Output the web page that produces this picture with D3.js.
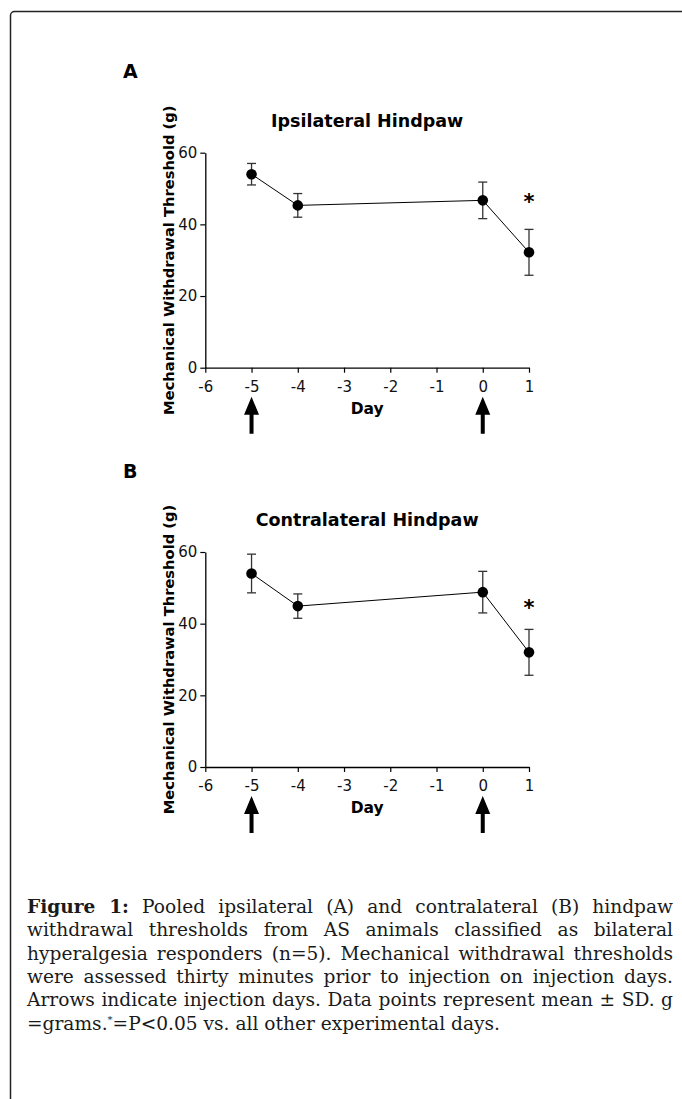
<!DOCTYPE html>
<html>
<head>
<meta charset="utf-8">
<script src="https://cdn.jsdelivr.net/npm/d3@7"></script>
<style>
    body { margin: 0; background: #fff; }
    #page { position: relative; width: 682px; height: 1099px; overflow: hidden; }
    svg { position: absolute; left: 0; top: 0; }
    .caption { position: absolute; left: 27px; width: 646px; top: 894.8px;
        font-family: "DejaVu Serif", serif; font-size: 18.6px; line-height: 23.4px; color: #1a1a1a; }
    .caption div { white-space: nowrap; text-align: justify; text-align-last: justify; }
    .caption div.last { text-align-last: left; }
    .caption b { font-weight: bold; }
    .caption sup { font-size: 10px; line-height: 0; vertical-align: 7px; }
</style>
</head>
<body>
<div id="page"></div>
<script>
const w = 682;
const h = 1099;

// data
const days = [-5, -4, 0, 1];
const ipsiMean = [54.0, 45.3, 46.7, 32.2];
const ipsiSD = [3.0, 3.3, 5.1, 6.4];
const contraMean = [54.0, 44.9, 48.8, 32.0];
const contraSD = [5.4, 3.4, 5.8, 6.4];
const injectionDays = [-5, 0];
const sigDay = 1;
const ipsiStarY = 47.3;
const contraStarY = 45.4;
const xTicks = [-6, -5, -4, -3, -2, -1, 0, 1];
const yTicks = [0, 20, 40, 60];

const captionLines = [
    "<b>Figure 1:</b> Pooled ipsilateral (A) and contralateral (B) hindpaw",
    "withdrawal thresholds from AS animals classified as bilateral",
    "hyperalgesia responders (n=5). Mechanical withdrawal thresholds",
    "were assessed thirty minutes prior to injection on injection days.",
    "Arrows indicate injection days. Data points represent mean ± SD. g",
    "=grams.<sup>*</sup>=P&lt;0.05 vs. all other experimental days."
];

const page = d3.select("#page");

const svg = page
    .append("svg")
    .attr("width", w)
    .attr("height", h);

// frame round the figure
svg.append("rect")
    .attr("x", 10.5)
    .attr("y", 11.5)
    .attr("width", 700)
    .attr("height", 1120)
    .attr("rx", 4)
    .attr("fill", "none")
    .attr("stroke", "#222")
    .attr("stroke-width", 1.5);

const panels = [
    { letter: "A", title: "Ipsilateral Hindpaw", mean: ipsiMean, sd: ipsiSD, starY: ipsiStarY, top: 152.7 },
    { letter: "B", title: "Contralateral Hindpaw", mean: contraMean, sd: contraSD, starY: contraStarY, top: 552.0 }
];

const plotLeft = 205.3;
const plotRight = 529;
const plotH = 215;

panels.forEach((p) => {
    const xScale = d3.scaleLinear().domain([-6, 1]).range([plotLeft, plotRight]);
    const yScale = d3.scaleLinear().domain([0, 60]).range([p.top + plotH, p.top]);
    const g = svg.append("g");
    const data = days.map((d, i) => ({ day: d, mean: p.mean[i], sd: p.sd[i] }));

    g.append("text")
        .attr("x", 123)
        .attr("y", p.top - 74.4)
        .attr("font-family", "DejaVu Sans, sans-serif")
        .attr("font-weight", "bold")
        .attr("font-size", 19)
        .text(p.letter);

    g.append("text")
        .attr("x", (plotLeft + plotRight) / 2)
        .attr("y", p.top - 26)
        .attr("text-anchor", "middle")
        .attr("font-family", "DejaVu Sans, sans-serif")
        .attr("font-weight", "bold")
        .attr("font-size", 17.5)
        .text(p.title);

    const xAxis = d3.axisBottom(xScale).tickValues(xTicks).tickSize(5).tickSizeOuter(0).tickPadding(8.5)
        .tickFormat(d3.format("d"));
    const yAxis = d3.axisLeft(yScale).tickValues(yTicks).tickSize(5).tickSizeOuter(0).tickPadding(3);

    [[xAxis, `translate(0,${p.top + plotH})`], [yAxis, `translate(${plotLeft},0)`]].forEach(([ax, tr]) => {
        g.append("g")
            .attr("transform", tr)
            .call(ax)
            .call((a) => a.select(".domain").attr("stroke-width", 1.3))
            .call((a) => a.selectAll(".tick line").attr("stroke-width", 1.2))
            .call((a) => a.selectAll("text")
                .attr("font-family", "DejaVu Sans, sans-serif")
                .attr("font-size", 15)
                .attr("fill", "#111"));
    });
    // axisBottom formats negatives with a minus sign; use the plain hyphen as in the figure
    g.selectAll("text").filter(function () { return this.textContent.includes("\u2212"); })
        .text(function () { return this.textContent.replace("\u2212", "-"); });

    g.append("text")
        .attr("x", (plotLeft + plotRight) / 2)
        .attr("y", p.top + plotH + 46.3)
        .attr("text-anchor", "middle")
        .attr("font-family", "DejaVu Sans, sans-serif")
        .attr("font-weight", "bold")
        .attr("font-size", 15.5)
        .text("Day");

    g.append("text")
        .attr("transform", `translate(174,${p.top + plotH / 2}) rotate(-90)`)
        .attr("text-anchor", "middle")
        .attr("font-family", "DejaVu Sans, sans-serif")
        .attr("font-weight", "bold")
        .attr("font-size", 14.7)
        .text("Mechanical Withdrawal Threshold (g)");

    // error bars
    const eb = g.append("g").attr("stroke", "#333").attr("stroke-width", 1.3);
    eb.selectAll("line.v")
        .data(data)
        .join("line")
        .attr("x1", (d) => xScale(d.day))
        .attr("x2", (d) => xScale(d.day))
        .attr("y1", (d) => yScale(d.mean - d.sd))
        .attr("y2", (d) => yScale(d.mean + d.sd));
    [1, -1].forEach((s) => {
        eb.selectAll(null)
            .data(data)
            .join("line")
            .attr("x1", (d) => xScale(d.day) - 4.5)
            .attr("x2", (d) => xScale(d.day) + 4.5)
            .attr("y1", (d) => yScale(d.mean + s * d.sd))
            .attr("y2", (d) => yScale(d.mean + s * d.sd));
    });

    g.append("path")
        .datum(data)
        .attr("fill", "none")
        .attr("stroke", "#000")
        .attr("stroke-width", 1)
        .attr("d", d3.line().x((d) => xScale(d.day)).y((d) => yScale(d.mean)));

    g.selectAll("circle")
        .data(data)
        .join("circle")
        .attr("cx", (d) => xScale(d.day))
        .attr("cy", (d) => yScale(d.mean))
        .attr("r", 5.3)
        .attr("fill", "#000");

    // significance mark
    g.append("text")
        .attr("x", xScale(sigDay))
        .attr("y", yScale(p.starY) + 11)
        .attr("text-anchor", "middle")
        .attr("font-family", "DejaVu Sans, sans-serif")
        .attr("font-weight", "bold")
        .attr("font-size", 21)
        .text("*");

    // injection arrows
    const tipY = p.top + plotH + 29;
    g.selectAll("path.arrow")
        .data(injectionDays)
        .join("path")
        .attr("class", "arrow")
        .attr("fill", "#000")
        .attr("d", (d) => {
            const x = xScale(d);
            return `M${x},${tipY} L${x + 7.5},${tipY + 18} L${x + 2},${tipY + 18} L${x + 2},${tipY + 37}` +
                ` L${x - 2},${tipY + 37} L${x - 2},${tipY + 18} L${x - 7.5},${tipY + 18} Z`;
        });
});

// caption
page.append("div")
    .attr("class", "caption")
    .selectAll("div")
    .data(captionLines)
    .join("div")
    .classed("last", (d, i) => i === captionLines.length - 1)
    .html((d) => d);
</script>
</body>
</html>
